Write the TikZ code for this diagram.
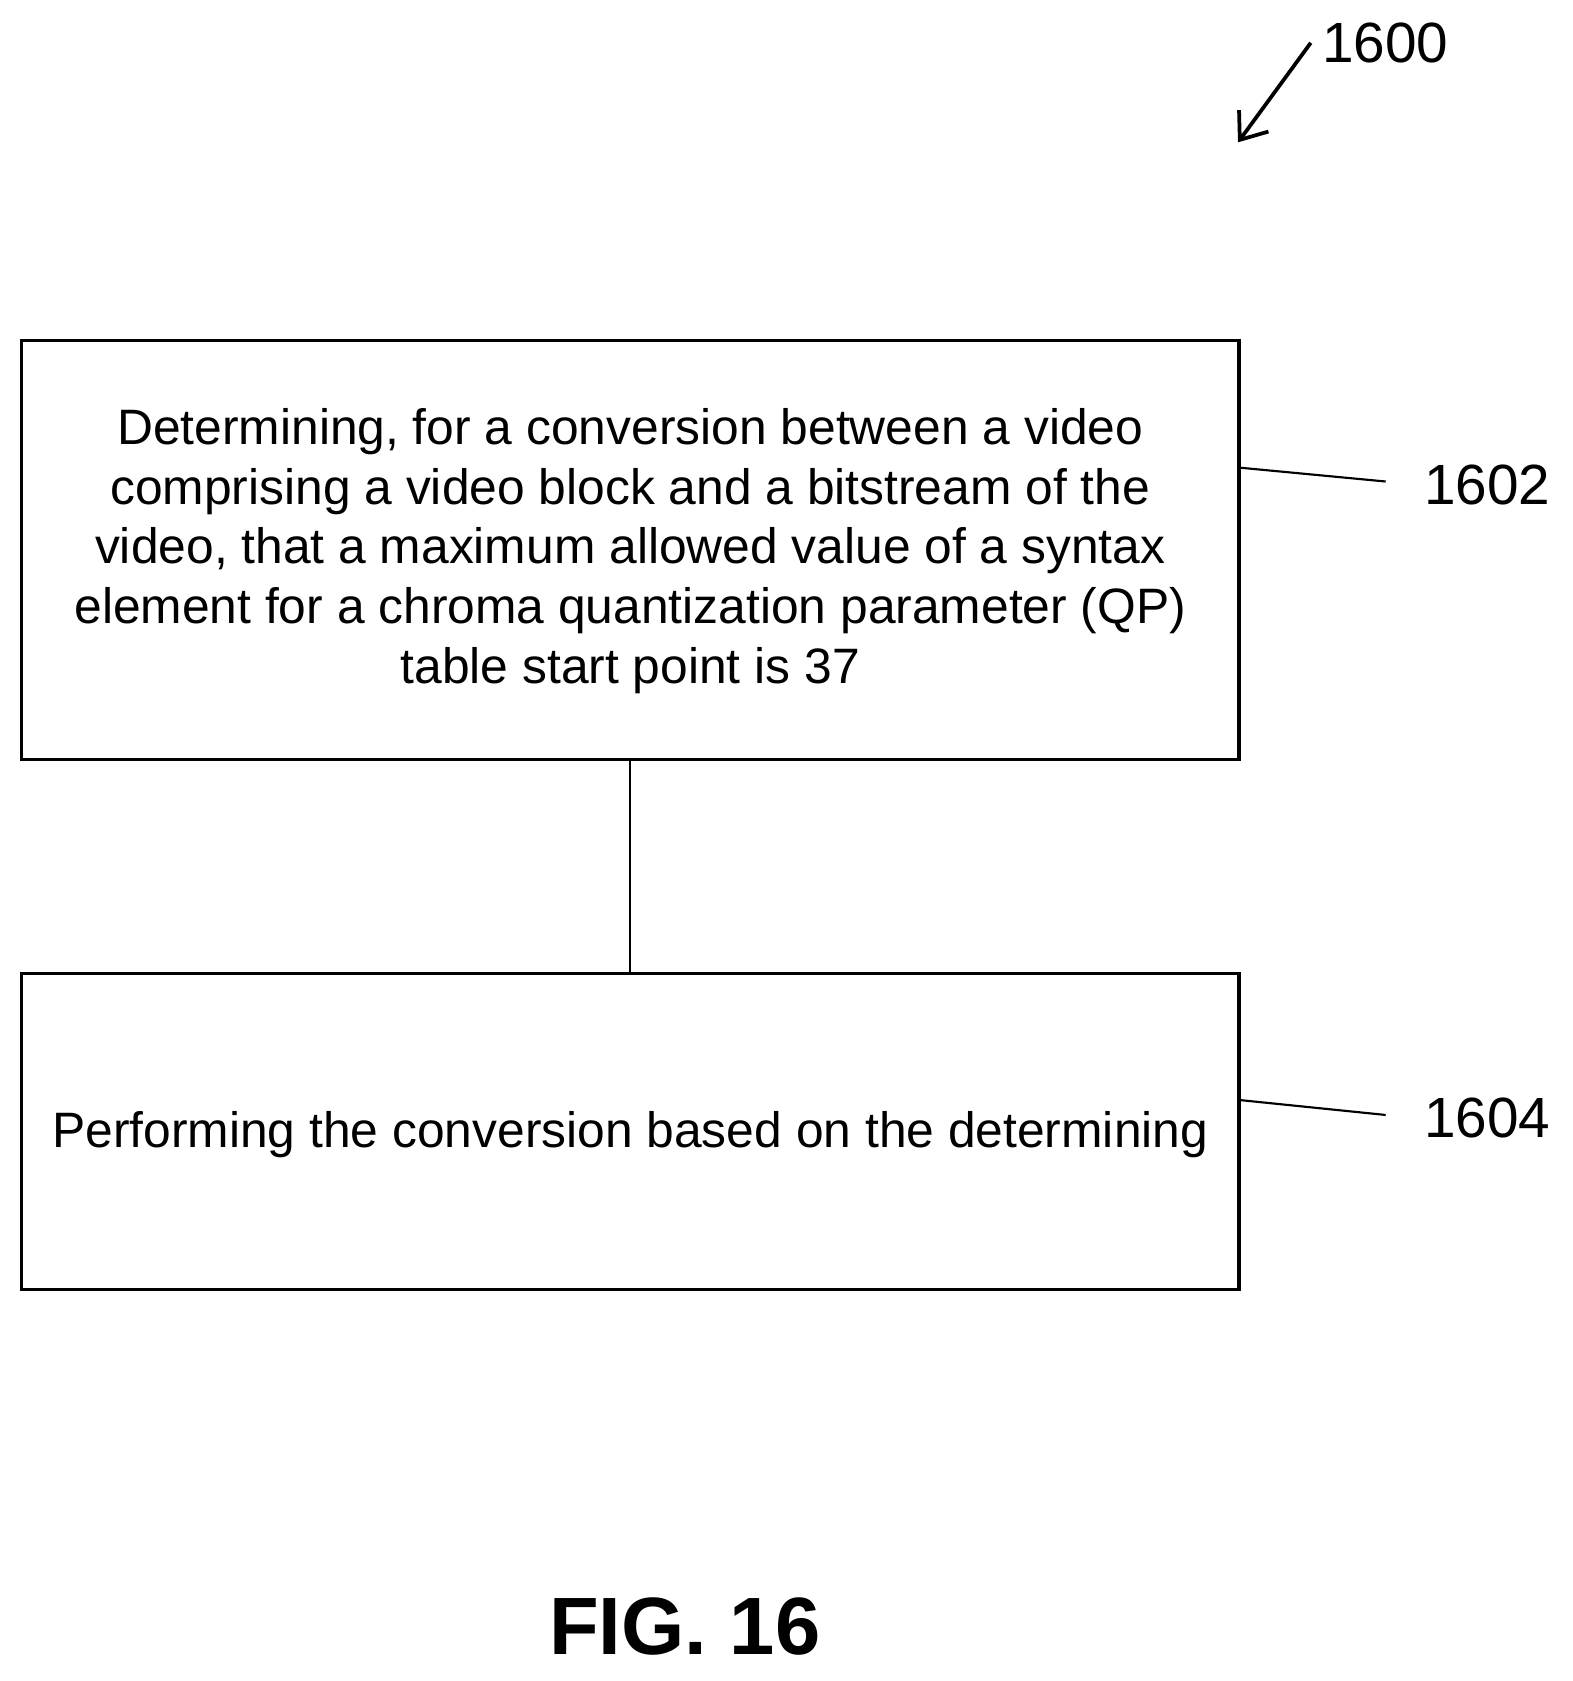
\documentclass[tikz,border=0pt]{standalone}
\usepackage{fontspec}
\setmainfont{Liberation Sans}
\usetikzlibrary{arrows.meta}
\begin{document}
\begin{tikzpicture}[x=1pt,y=-1pt,
  box/.style={draw,line width=3pt,inner sep=0pt},
  txt/.style={align=center,font=\fontsize{46.5}{56}\selectfont},
  lbl/.style={font=\fontsize{53}{60}\selectfont},
  lead/.style={line width=2pt}]
\useasboundingbox (0,0) rectangle (1470,1571);
\node[box,minimum width=1138pt,minimum height=392pt] (b1) at (589,514) {};
\node[txt] (t1) at (589,515) {Determining, for a conversion between a video\\comprising a video block and a bitstream of the\\video, that a maximum allowed value of a syntax\\element for a chroma quantization parameter (QP)\\table start point is 37};
\node[box,minimum width=1138pt,minimum height=295pt] (b2) at (589,1057.5) {};
\node[txt] (t2) at (589,1060) {Performing the conversion based on the determining};
\draw[lead] (b1.south) -- (b2.north);
\coordinate (l1) at (1295,450);
\coordinate (l2) at (1295,1042);
\draw[lead] (1158,437) -- (l1);
\draw[lead] (1158,1028) -- (l2);
\node[lbl] (n1602) at (1390,453) {1602};
\node[lbl] (n1604) at (1390,1045) {1604};
\node[lbl,anchor=west] (n1600) at (1232,40) {1600};
\coordinate (a0) at (1225,40);
\coordinate (a1) at (1157,133);
\draw[line width=3.5pt,-{Straight Barb[length=22pt,width=34pt]}] (a0) -- (a1);
\node[font=\fontsize{76}{80}\selectfont\bfseries] (fig) at (640,1520) {FIG. 16};
\end{tikzpicture}
\end{document}
